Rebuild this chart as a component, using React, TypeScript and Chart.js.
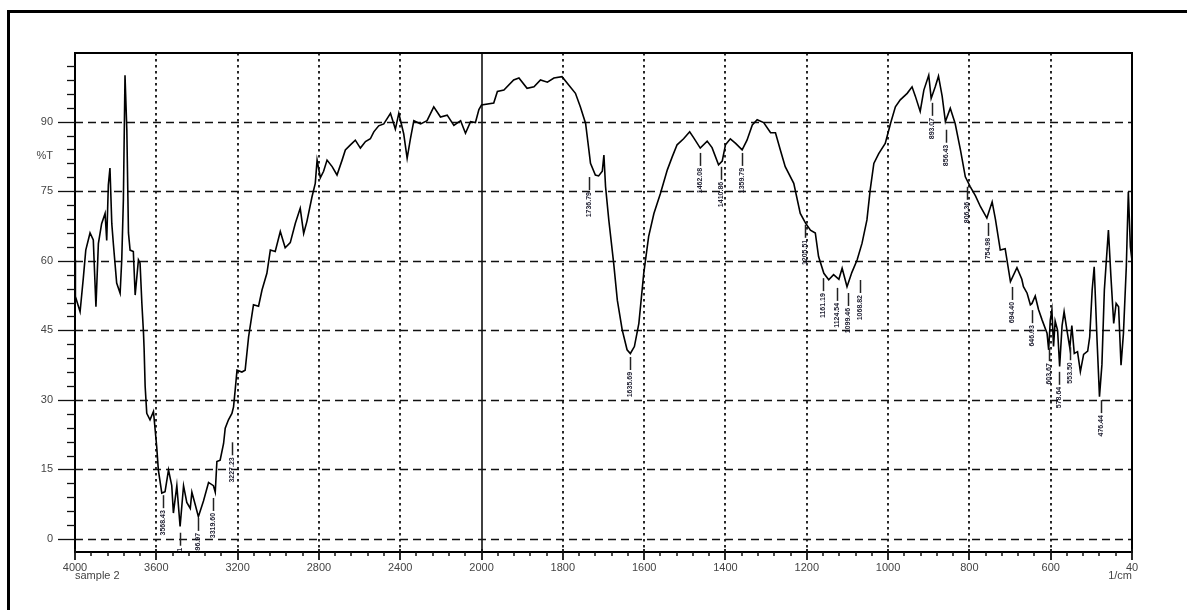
import React, { useEffect, useRef } from 'react';
import { Chart, registerables } from 'chart.js';

Chart.register(...registerables);

// ---- Spectrum data (wavenumber in 1/cm, transmittance in %T) ----
const wavenumbers = [
  4000, 3998, 3975, 3959, 3947, 3926, 3910, 3897, 3885, 3869, 3852, 3844, 3836, 3828, 3819, 3811,
  3795, 3778, 3770, 3762, 3754, 3745, 3737, 3729, 3713, 3704, 3688, 3680, 3671, 3663, 3660, 3655,
  3647, 3631, 3614, 3598, 3590, 3573, 3557, 3540, 3524, 3516, 3499, 3483, 3466, 3450, 3433, 3425,
  3409, 3393, 3368, 3343, 3319, 3310, 3302, 3286, 3269, 3261, 3245, 3228, 3220, 3212, 3203, 3179,
  3163, 3146, 3122, 3097, 3080, 3056, 3039, 3015, 2990, 2966, 2941, 2916, 2892, 2875, 2859, 2834,
  2818, 2809, 2793, 2777, 2760, 2735, 2711, 2686, 2670, 2645, 2621, 2596, 2571, 2547, 2530, 2506,
  2481, 2448, 2424, 2407, 2383, 2366, 2350, 2333, 2300, 2268, 2235, 2202, 2169, 2136, 2103, 2079,
  2054, 2030, 2013, 2000,
  1970, 1961, 1945, 1921, 1908, 1888, 1871, 1855, 1838, 1822, 1802, 1789, 1769, 1757, 1744, 1736,
  1732, 1720, 1712, 1703, 1699, 1695, 1687, 1675, 1666, 1654, 1642, 1634, 1624, 1613, 1601, 1589,
  1576, 1560, 1543, 1531, 1519, 1503, 1488, 1478, 1462, 1445, 1433, 1417, 1408, 1400, 1388, 1375,
  1359, 1347, 1334, 1322, 1306, 1289, 1277, 1265, 1253, 1232, 1216, 1203, 1191, 1179, 1171, 1158,
  1146, 1134, 1121, 1113, 1101, 1089, 1076, 1064, 1052, 1044, 1035, 1023, 1007, 994, 982, 970,
  953, 941, 933, 921, 912, 900, 894, 884, 876, 867, 859, 847, 835, 822, 810, 798,
  785, 773, 757, 744, 736, 724, 712, 699, 683, 671, 667, 658, 650, 646, 638, 630,
  621, 609, 605, 601, 597, 593, 589, 583, 578, 572, 567, 560, 553, 548, 542, 534,
  527, 519, 509, 504, 498, 493, 486, 480, 474, 468, 463, 458, 452, 445, 439, 433,
  427, 421, 414, 409, 404, 400,
];

const transmittance = [
  60.2, 52.3, 49, 56.3, 62.3, 66, 64.5, 50.1, 63.7, 68, 70.2, 64.4, 76.3, 80, 68, 63.5,
  55.2, 53, 60.2, 73.1, 100, 88.2, 66, 62.3, 62, 52.6, 60.2, 59.5, 50.8, 44.4, 41, 33,
  27.1, 25.7, 27.5, 19.9, 14.9, 9.9, 10.2, 14.9, 11.5, 5.6, 11.5, 2.7, 11.5, 7.9, 6.6, 10.1,
  7.5, 4.8, 8.2, 12.2, 11.5, 10.1, 16.7, 17, 20.6, 23.9, 25.7, 27.1, 28.5, 32.1, 36.4, 36,
  36.4, 43.6, 50.5, 50.2, 53.7, 57.3, 62.3, 62, 66.3, 62.8, 63.9, 68.1, 71.3, 65.9, 68.5, 73.8,
  76.7, 81.7, 77.9, 79.3, 81.7, 80.3, 78.5, 81.7, 83.9, 85, 86, 84.3, 85.7, 86.3, 87.8, 89.1,
  89.5, 91.8, 88.4, 91.8, 87.4, 82.1, 86.3, 90.2, 89.5, 90.2, 93.2, 91, 91.4, 89.2, 90.2, 87.5,
  90, 89.8, 92.6, 93.6,
  94, 96.5, 96.8, 99, 99.4, 97.2, 97.5, 99, 98.5, 99.4, 99.7, 98.3, 96.1, 93.2, 89.6, 83.9,
  81, 78.5, 78.3, 79.3, 82.8, 76, 68.8, 59.5, 51.5, 45.1, 40.8, 40, 41.5, 46.5, 57.3, 65.2,
  70.2, 74.5, 79.6, 82.4, 85, 86.3, 87.8, 86.5, 84.3, 85.8, 84.4, 80.7, 81.5, 85, 86.3, 85.3,
  83.9, 86, 89.3, 90.4, 89.8, 87.6, 87.6, 83.9, 80.3, 76.7, 70.2, 68.1, 66.6, 66, 60.9, 57.3,
  55.9, 57, 56, 58.4, 54.4, 57.5, 60.2, 63.8, 68.8, 75.3, 81, 83.1, 85.3, 89.6, 93.2, 94.7,
  96.1, 97.5, 95.5, 92.2, 96.8, 100, 95, 97.5, 99.8, 95.5, 90, 92.9, 89.6, 83.9, 78.1, 76,
  74, 71.7, 69.2, 72.7, 69, 62.3, 62.6, 55.5, 58.5, 56, 54.4, 53, 50.5, 50.8, 52.4, 49.5,
  47.2, 44.4, 40.8, 47.2, 49.4, 41.5, 47, 45, 37.2, 46, 49, 45, 41.2, 46, 40, 40.4,
  36.1, 39.8, 40.5, 43.6, 53.7, 58.7, 42.9, 30.7, 37.6, 53.7, 60.2, 66.6, 56.8, 46.5, 50.8, 50.1,
  37.5, 44.4, 58.7, 74.9, 63, 60,
];

// ---- Axis ticks ----
const xTickValues = [4000, 3600, 3200, 2800, 2400, 2000, 1800, 1600, 1400, 1200, 1000, 800, 600, 400];
const xTickLabels = ['4000', '3600', '3200', '2800', '2400', '2000', '1800', '1600', '1400', '1200', '1000', '800', '600', '40'];
const yTickValues = [0, 15, 30, 45, 60, 75, 90];
const yTickLabels = ['0', '15', '30', '45', '60', '75', '90'];

// ---- Peak annotations ----
const peakWavenumbers = [
  3568.43, 3483.21, 3396.97, 3319.6, 3227.23, 1736.79, 1635.69, 1462.08, 1410.86, 1359.79,
  1205.51, 1161.19, 1124.54, 1099.46, 1068.82, 893.07, 856.43, 806.36, 754.98, 694.4,
  646.03, 603.67, 578.64, 553.5, 476.44,
];
const peakTransmittance = [
  10.1, 2, 5.2, 9.5, 21.5, 78.7, 39.9, 83.9, 80.9, 83.9,
  68.4, 56.9, 54.8, 53.7, 56.5, 94.7, 88.9, 76.6, 68.8, 55,
  50, 41.8, 36.7, 42, 30.6,
];
const peakLabels = [
  '3568.43', '3483.21', '3396.97', '3319.60', '3227.23', '1736.79', '1635.69', '1462.08', '1410.86', '1359.79',
  '1205.51', '1161.19', '1124.54', '1099.46', '1068.82', '893.07', '856.43', '806.36', '754.98', '694.40',
  '646.03', '603.67', '578.64', '553.50', '476.44',
];

// Spectrometer x-axis: scale doubles below 2000 1/cm
const toAxis = (w: number) => (w >= 2000 ? (4000 - w) / 2 : 1000 + (2000 - w));

const FONT = "'Liberation Sans', Arial, sans-serif";

function seg(ctx: CanvasRenderingContext2D, x1: number, y1: number, x2: number, y2: number) {
  ctx.beginPath();
  ctx.moveTo(x1, y1);
  ctx.lineTo(x2, y2);
  ctx.stroke();
}

const decorPlugin = {
  id: 'spectrumDecor',
  beforeDatasetsDraw(chart: any) {
    const { ctx, chartArea: a } = chart;
    const xs = chart.scales.x;
    const ys = chart.scales.y;
    ctx.save();
    ctx.strokeStyle = '#111';
    ctx.lineWidth = 1.4;
    ctx.setLineDash([8, 5]);
    yTickValues.forEach((v) => {
      const py = Math.round(ys.getPixelForValue(v)) + 0.5;
      seg(ctx, a.left, py, a.right, py);
    });
    ctx.lineWidth = 1.8;
    ctx.setLineDash([2.5, 3.5]);
    xTickValues.forEach((w) => {
      if (w === 4000 || w === 400 || w === 2000) return;
      const px = Math.round(xs.getPixelForValue(toAxis(w)));
      seg(ctx, px, a.top, px, a.bottom);
    });
    ctx.setLineDash([]);
    ctx.lineWidth = 1.6;
    const pb = Math.round(xs.getPixelForValue(toAxis(2000)));
    seg(ctx, pb, a.top, pb, a.bottom);
    ctx.restore();
  },
  afterDatasetsDraw(chart: any) {
    const { ctx, chartArea: a } = chart;
    const xs = chart.scales.x;
    const ys = chart.scales.y;
    ctx.save();
    // peak markers
    ctx.save();
    ctx.beginPath();
    ctx.rect(a.left, a.top, a.right - a.left, a.bottom - a.top);
    ctx.clip();
    ctx.strokeStyle = '#222';
    ctx.fillStyle = '#1e1e30';
    ctx.lineWidth = 1.5;
    ctx.font = `bold 7px ${FONT}`;
    peakWavenumbers.forEach((w, i) => {
      const px = Math.round(xs.getPixelForValue(toAxis(w))) + 0.5;
      const py = ys.getPixelForValue(peakTransmittance[i]);
      seg(ctx, px, py + 3, px, py + 16);
      ctx.save();
      ctx.translate(px, py + 18);
      ctx.rotate(-Math.PI / 2);
      ctx.textAlign = 'right';
      ctx.textBaseline = 'middle';
      ctx.fillText(peakLabels[i], 0, 0);
      ctx.restore();
    });
    ctx.restore();

    // frame
    ctx.strokeStyle = '#000';
    ctx.lineWidth = 2;
    ctx.strokeRect(a.left, a.top, a.right - a.left, a.bottom - a.top);

    // y ticks
    ctx.lineWidth = 1.3;
    ctx.strokeStyle = '#111';
    for (let v = 3; v <= 102; v += 3) {
      const py = Math.round(ys.getPixelForValue(v)) + 0.5;
      const len = v % 15 === 0 ? 17 : 8;
      seg(ctx, a.left - len, py, a.left, py);
    }
    {
      const py = Math.round(ys.getPixelForValue(0)) + 0.5;
      seg(ctx, a.left - 17, py, a.left, py);
    }
    // x ticks
    xTickValues.forEach((w) => {
      const px = Math.round(xs.getPixelForValue(toAxis(w)));
      ctx.lineWidth = 1.8;
      seg(ctx, px, a.bottom - 3, px, a.bottom + 8);
    });
    ctx.lineWidth = 1.5;
    for (let w = 4000 - 80; w > 2000; w -= 80) {
      if (w % 400 === 0) continue;
      const px = Math.round(xs.getPixelForValue(toAxis(w)));
      seg(ctx, px, a.bottom, px, a.bottom + 4);
    }
    for (let w = 2000 - 40; w > 400; w -= 40) {
      if (w % 200 === 0) continue;
      const px = Math.round(xs.getPixelForValue(toAxis(w)));
      seg(ctx, px, a.bottom, px, a.bottom + 4);
    }

    // texts
    ctx.fillStyle = '#444';
    ctx.font = `11px ${FONT}`;
    ctx.textBaseline = 'middle';
    ctx.textAlign = 'right';
    ctx.fillText('%T', a.left - 22, ys.getPixelForValue(82.6));
    ctx.textAlign = 'left';
    ctx.fillText('sample 2', a.left, a.bottom + 24);
    ctx.textAlign = 'right';
    ctx.fillText('1/cm', a.right, a.bottom + 24);

    // outer frame
    ctx.fillStyle = '#000';
    ctx.fillRect(7, 10, 3, 600);
    ctx.fillRect(7, 10, 1180, 3);
    ctx.restore();
  },
};

export default function App() {
  const canvasRef = useRef<HTMLCanvasElement | null>(null);

  useEffect(() => {
    const canvas = canvasRef.current;
    if (!canvas) return;
    const points = wavenumbers.map((w, i) => ({ x: toAxis(w), y: transmittance[i] }));
    const chart = new Chart(canvas, {
      type: 'line',
      data: {
        datasets: [
          {
            data: points,
            borderColor: '#000',
            borderWidth: 1.6,
            pointRadius: 0,
            tension: 0,
            fill: false,
          },
        ],
      },
      options: {
        responsive: false,
        animation: false,
        devicePixelRatio: 1,
        layout: { padding: { left: 0, top: 53, right: 55, bottom: 0 } },
        plugins: { legend: { display: false }, tooltip: { enabled: false } },
        scales: {
          x: {
            type: 'linear',
            min: 0,
            max: 2600,
            grid: { display: false, drawTicks: false },
            border: { display: false },
            afterBuildTicks: (s: any) => {
              s.ticks = xTickValues.map((w) => ({ value: toAxis(w) }));
            },
            afterFit: (s: any) => {
              s.height = 58;
            },
            ticks: {
              autoSkip: false,
              maxRotation: 0,
              padding: 9,
              color: '#444',
              font: { family: FONT, size: 11 },
              callback: (_v: any, i: number) => xTickLabels[i],
            },
          },
          y: {
            type: 'linear',
            min: -2.8,
            max: 104.8,
            grid: { display: false, drawTicks: false },
            border: { display: false },
            afterBuildTicks: (s: any) => {
              s.ticks = yTickValues.map((v) => ({ value: v }));
            },
            afterFit: (s: any) => {
              s.width = 75;
            },
            ticks: {
              padding: 22,
              color: '#444',
              font: { family: FONT, size: 11 },
              callback: (_v: any, i: number) => yTickLabels[i],
            },
          },
        },
      },
      plugins: [decorPlugin],
    } as any);
    return () => chart.destroy();
  }, []);

  return (
    <div style={{ position: 'fixed', left: 0, top: 0, width: 1187, height: 610, background: '#fff' }}>
      <canvas ref={canvasRef} width={1187} height={610} style={{ display: 'block' }} />
    </div>
  );
}
